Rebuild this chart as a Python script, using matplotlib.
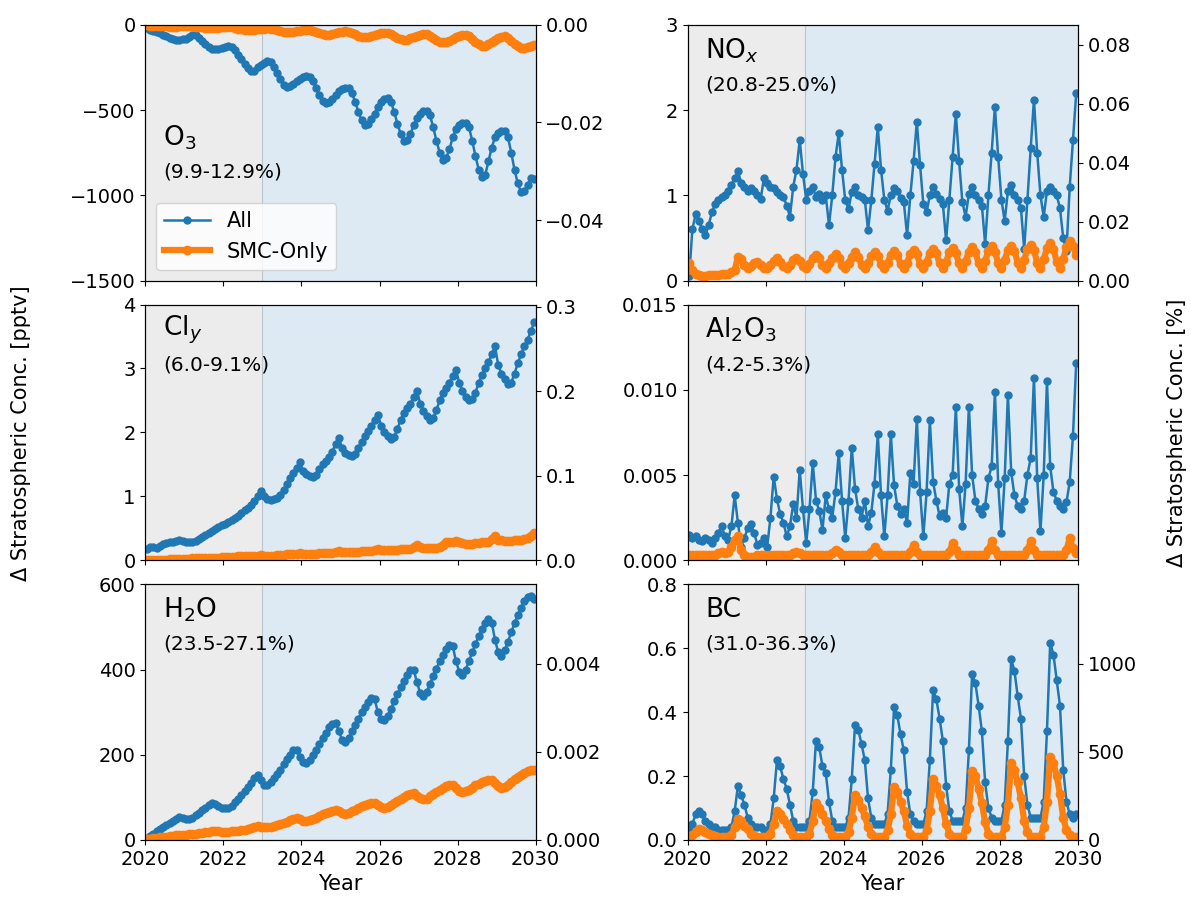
import numpy as np
import matplotlib.pyplot as plt

# monthly values, Jan 2020 - Dec 2029 (one row per year)
o3_all = [-20, -28, -35, -40, -48, -58, -68, -78, -85, -88, -86, -84,
          -80, -70, -60, -62, -75, -95, -115, -130, -140, -142, -140, -135,
          -128, -125, -130, -150, -175, -200, -230, -255, -270, -268, -250, -235,
          -222, -214, -220, -245, -280, -320, -350, -365, -360, -345, -330, -315,
          -305, -300, -305, -330, -370, -410, -445, -460, -455, -435, -410, -390,
          -378, -370, -372, -400, -450, -510, -560, -585, -580, -555, -520, -480,
          -450, -432, -428, -450, -510, -580, -640, -680, -675, -640, -590, -545,
          -520, -508, -506, -530, -600, -680, -750, -790, -780, -730, -660, -610,
          -590, -578, -574, -600, -680, -770, -850, -895, -880, -800, -720, -660,
          -635, -625, -623, -660, -750, -850, -930, -980, -975, -940, -900, -905]
o3_smc = [-3, -4, -5, -6, -7, -8, -9, -10, -10, -10, -9, -8,
          -8, -8, -9, -11, -13, -15, -17, -18, -18, -17, -16, -15,
          -14, -14, -15, -18, -22, -26, -29, -31, -31, -29, -26, -24,
          -22, -21, -22, -26, -32, -38, -42, -44, -44, -41, -37, -34,
          -31, -30, -31, -36, -43, -50, -55, -58, -57, -53, -48, -44,
          -40, -38, -39, -45, -54, -63, -70, -73, -72, -66, -59, -53,
          -49, -47, -48, -55, -65, -76, -84, -88, -86, -79, -70, -63,
          -58, -55, -56, -64, -76, -89, -98, -103, -101, -92, -81, -73,
          -66, -60, -60, -68, -82, -98, -112, -122, -124, -115, -100, -86,
          -75, -70, -68, -76, -92, -110, -125, -135, -137, -130, -125, -118]

nox_all = [0.05, 0.60, 0.78, 0.70, 0.60, 0.53, 0.65, 0.80, 0.90, 0.95, 0.98, 1.00,
           1.05, 1.12, 1.20, 1.28, 1.15, 1.10, 1.05, 1.08, 1.05, 1.00, 0.96, 1.20,
           1.15, 1.10, 1.08, 1.04, 1.00, 0.98, 0.88, 0.75, 1.10, 1.30, 1.65, 1.25,
           0.95, 1.05, 1.10, 0.98, 1.02, 0.95, 1.00, 0.65, 1.00, 1.45, 1.73, 1.30,
           0.94, 0.84, 1.04, 1.10, 1.00, 0.98, 0.95, 0.59, 0.94, 1.37, 1.80, 1.30,
           0.95, 0.82, 1.00, 1.08, 1.05, 0.97, 0.92, 0.53, 1.00, 1.40, 1.86, 1.35,
           0.90, 0.80, 1.00, 1.10, 1.02, 0.96, 0.90, 0.47, 0.95, 1.45, 1.96, 1.40,
           0.92, 0.75, 1.02, 1.10, 1.00, 0.95, 0.88, 0.43, 1.00, 1.50, 2.04, 1.45,
           0.95, 0.70, 1.05, 1.12, 1.00, 0.95, 0.85, 0.37, 0.95, 1.55, 2.12, 1.50,
           1.00, 0.75, 1.05, 1.10, 1.05, 1.00, 0.85, 0.50, 0.35, 1.10, 1.65, 2.20]
nox_smc = [0.20, 0.12, 0.08, 0.06, 0.05, 0.05, 0.06, 0.07, 0.06, 0.07, 0.08, 0.08,
           0.08, 0.10, 0.12, 0.28, 0.25, 0.18, 0.15, 0.17, 0.20, 0.22, 0.18, 0.15,
           0.15, 0.18, 0.23, 0.26, 0.22, 0.17, 0.15, 0.18, 0.24, 0.27, 0.23, 0.17,
           0.15, 0.19, 0.26, 0.30, 0.26, 0.18, 0.15, 0.20, 0.27, 0.31, 0.27, 0.18,
           0.15, 0.20, 0.28, 0.33, 0.28, 0.18, 0.15, 0.20, 0.29, 0.34, 0.29, 0.19,
           0.15, 0.21, 0.30, 0.35, 0.30, 0.19, 0.15, 0.21, 0.31, 0.36, 0.31, 0.19,
           0.15, 0.22, 0.32, 0.37, 0.32, 0.20, 0.15, 0.22, 0.33, 0.38, 0.32, 0.20,
           0.15, 0.23, 0.34, 0.39, 0.33, 0.20, 0.15, 0.23, 0.35, 0.40, 0.34, 0.21,
           0.15, 0.24, 0.36, 0.41, 0.35, 0.21, 0.15, 0.24, 0.37, 0.42, 0.36, 0.21,
           0.15, 0.25, 0.38, 0.44, 0.37, 0.22, 0.15, 0.25, 0.39, 0.46, 0.40, 0.30]

cly_all = [0.18, 0.20, 0.20, 0.19, 0.22, 0.25, 0.27, 0.28, 0.29, 0.30, 0.31, 0.30,
           0.29, 0.28, 0.29, 0.30, 0.33, 0.36, 0.40, 0.43, 0.46, 0.49, 0.52, 0.55,
           0.57, 0.60, 0.63, 0.66, 0.70, 0.74, 0.78, 0.82, 0.86, 0.92, 1.00, 1.09,
           1.00, 0.96, 0.95, 0.96, 0.98, 1.02, 1.10, 1.20, 1.28, 1.36, 1.45, 1.53,
           1.40, 1.35, 1.32, 1.30, 1.33, 1.42, 1.50, 1.56, 1.62, 1.70, 1.82, 1.92,
           1.75, 1.68, 1.64, 1.63, 1.66, 1.75, 1.85, 1.95, 2.02, 2.10, 2.20, 2.28,
           2.10, 2.00, 1.94, 1.90, 1.93, 2.05, 2.20, 2.30, 2.38, 2.45, 2.55, 2.65,
           2.45, 2.33, 2.25, 2.20, 2.22, 2.35, 2.50, 2.62, 2.70, 2.78, 2.88, 2.98,
           2.78, 2.65, 2.56, 2.50, 2.52, 2.62, 2.78, 2.90, 3.00, 3.10, 3.22, 3.35,
           3.05, 2.92, 2.83, 2.76, 2.78, 2.92, 3.08, 3.22, 3.35, 3.45, 3.58, 3.72]
cly_smc = [0.00, 0.00, 0.01, 0.01, 0.01, 0.01, 0.01, 0.02, 0.02, 0.02, 0.02, 0.02,
           0.02, 0.02, 0.03, 0.03, 0.03, 0.03, 0.03, 0.04, 0.04, 0.04, 0.04, 0.05,
           0.05, 0.05, 0.05, 0.05, 0.06, 0.06, 0.06, 0.06, 0.06, 0.07, 0.07, 0.08,
           0.07, 0.07, 0.07, 0.07, 0.08, 0.08, 0.08, 0.09, 0.09, 0.09, 0.10, 0.11,
           0.10, 0.10, 0.10, 0.10, 0.10, 0.11, 0.11, 0.11, 0.12, 0.12, 0.13, 0.15,
           0.13, 0.13, 0.13, 0.13, 0.13, 0.13, 0.14, 0.14, 0.14, 0.15, 0.16, 0.18,
           0.16, 0.16, 0.16, 0.16, 0.16, 0.16, 0.17, 0.17, 0.17, 0.18, 0.20, 0.24,
           0.20, 0.19, 0.19, 0.19, 0.19, 0.19, 0.20, 0.24, 0.28, 0.28, 0.29, 0.30,
           0.28, 0.27, 0.26, 0.26, 0.26, 0.27, 0.27, 0.28, 0.28, 0.29, 0.33, 0.38,
           0.32, 0.31, 0.30, 0.30, 0.30, 0.31, 0.31, 0.32, 0.33, 0.35, 0.38, 0.42]

al2o3_all = [0.0015, 0.0013, 0.0014, 0.0012, 0.0011, 0.0013, 0.0012, 0.0010, 0.0013, 0.0016, 0.0020, 0.0014,
             0.0012, 0.0020, 0.0038, 0.0022, 0.0008, 0.0013, 0.0019, 0.0021, 0.0016, 0.0009, 0.0010, 0.0013,
             0.0008, 0.0025, 0.0049, 0.0036, 0.0027, 0.0022, 0.0014, 0.0020, 0.0033, 0.0025, 0.0053, 0.0030,
             0.0010, 0.0030, 0.0057, 0.0035, 0.0029, 0.0018, 0.0038, 0.0030, 0.0025, 0.0040, 0.0063, 0.0035,
             0.0013, 0.0035, 0.0066, 0.0042, 0.0030, 0.0025, 0.0035, 0.0020, 0.0028, 0.0045, 0.0074, 0.0038,
             0.0014, 0.0038, 0.0074, 0.0044, 0.0032, 0.0027, 0.0030, 0.0022, 0.0051, 0.0045, 0.0083, 0.0040,
             0.0014, 0.0040, 0.0082, 0.0046, 0.0035, 0.0026, 0.0028, 0.0025, 0.0045, 0.0050, 0.0090, 0.0042,
             0.0020, 0.0045, 0.0090, 0.0050, 0.0035, 0.0030, 0.0027, 0.0032, 0.0048, 0.0055, 0.0099, 0.0045,
             0.0016, 0.0048, 0.0097, 0.0052, 0.0038, 0.0032, 0.0030, 0.0035, 0.0050, 0.0060, 0.0107, 0.0048,
             0.0017, 0.0050, 0.0105, 0.0055, 0.0040, 0.0035, 0.0032, 0.0030, 0.0034, 0.0046, 0.0073, 0.0116]
al2o3_smc = [0.0003, 0.0003, 0.0003, 0.0003, 0.0003, 0.0003, 0.0003, 0.0003, 0.0003, 0.0004, 0.0005, 0.0004,
             0.0005, 0.0008, 0.0012, 0.0014, 0.0006, 0.0003, 0.0002, 0.0002, 0.0002, 0.0003, 0.0003, 0.0003,
             0.0002, 0.0003, 0.0003, 0.0003, 0.0003, 0.0003, 0.0003, 0.0003, 0.0004, 0.0005, 0.0004, 0.0003,
             0.0003, 0.0003, 0.0003, 0.0003, 0.0003, 0.0003, 0.0003, 0.0003, 0.0004, 0.0006, 0.0005, 0.0003,
             0.0003, 0.0003, 0.0003, 0.0003, 0.0003, 0.0003, 0.0003, 0.0003, 0.0005, 0.0008, 0.0005, 0.0003,
             0.0003, 0.0003, 0.0003, 0.0003, 0.0003, 0.0003, 0.0003, 0.0003, 0.0005, 0.0009, 0.0005, 0.0003,
             0.0003, 0.0003, 0.0003, 0.0003, 0.0003, 0.0003, 0.0003, 0.0003, 0.0005, 0.0010, 0.0006, 0.0003,
             0.0003, 0.0003, 0.0003, 0.0003, 0.0003, 0.0003, 0.0003, 0.0003, 0.0006, 0.0011, 0.0006, 0.0003,
             0.0003, 0.0003, 0.0003, 0.0003, 0.0003, 0.0003, 0.0003, 0.0003, 0.0006, 0.0011, 0.0006, 0.0003,
             0.0003, 0.0003, 0.0003, 0.0003, 0.0003, 0.0003, 0.0003, 0.0003, 0.0006, 0.0013, 0.0007, 0.0004]

h2o_all = [5, 10, 15, 20, 25, 30, 35, 40, 45, 50, 55, 52,
           50, 50, 52, 58, 64, 70, 76, 82, 86, 84, 80, 76,
           75, 76, 80, 88, 96, 105, 114, 124, 134, 145, 153, 140,
           129, 128, 135, 145, 155, 165, 178, 190, 200, 210, 212, 195,
           182, 180, 188, 200, 212, 226, 240, 252, 264, 272, 275, 255,
           235, 231, 240, 255, 270, 285, 300, 312, 324, 333, 330, 300,
           285, 282, 292, 308, 325, 342, 358, 372, 386, 398, 400, 370,
           345, 337, 348, 365, 385, 402, 420, 435, 448, 458, 455, 420,
           395, 388, 400, 420, 440, 460, 478, 494, 508, 518, 510, 470,
           440, 431, 445, 465, 488, 508, 528, 545, 560, 570, 573, 565]
h2o_smc = [2, 3, 4, 5, 6, 7, 8, 9, 10, 11, 12, 12,
           12, 13, 14, 15, 16, 17, 18, 19, 20, 20, 20, 19,
           19, 19, 20, 21, 22, 23, 24, 26, 28, 30, 32, 31,
           30, 30, 31, 33, 35, 37, 40, 43, 46, 49, 51, 48,
           45, 44, 46, 49, 52, 56, 60, 63, 66, 69, 71, 67,
           63, 62, 64, 67, 71, 75, 79, 82, 85, 87, 86, 82,
           78, 76, 78, 82, 87, 92, 97, 101, 105, 108, 110, 104,
           98, 95, 97, 102, 107, 113, 118, 122, 126, 129, 129, 122,
           115, 112, 114, 118, 123, 128, 132, 136, 139, 141, 140, 133,
           126, 123, 125, 130, 136, 142, 148, 153, 158, 162, 165, 163]

bc_all = [0.03, 0.05, 0.08, 0.09, 0.08, 0.06, 0.05, 0.04, 0.04, 0.03, 0.03, 0.03,
          0.03, 0.04, 0.09, 0.17, 0.14, 0.11, 0.07, 0.05, 0.04, 0.04, 0.04, 0.03,
          0.03, 0.05, 0.13, 0.25, 0.23, 0.19, 0.16, 0.11, 0.06, 0.04, 0.04, 0.04,
          0.04, 0.06, 0.15, 0.31, 0.29, 0.23, 0.21, 0.12, 0.06, 0.04, 0.04, 0.04,
          0.04, 0.07, 0.19, 0.36, 0.345, 0.30, 0.25, 0.13, 0.07, 0.05, 0.05, 0.05,
          0.05, 0.08, 0.22, 0.415, 0.39, 0.33, 0.28, 0.15, 0.08, 0.06, 0.05, 0.05,
          0.05, 0.09, 0.25, 0.47, 0.44, 0.38, 0.31, 0.17, 0.09, 0.06, 0.06, 0.06,
          0.06, 0.10, 0.28, 0.52, 0.49, 0.42, 0.34, 0.18, 0.10, 0.07, 0.06, 0.06,
          0.06, 0.11, 0.31, 0.565, 0.53, 0.45, 0.38, 0.20, 0.11, 0.07, 0.07, 0.07,
          0.07, 0.12, 0.34, 0.617, 0.58, 0.50, 0.42, 0.22, 0.12, 0.08, 0.07, 0.08]
bc_smc = [0.01, 0.015, 0.025, 0.035, 0.03, 0.025, 0.02, 0.015, 0.012, 0.01, 0.01, 0.01,
          0.01, 0.015, 0.04, 0.065, 0.06, 0.045, 0.035, 0.02, 0.012, 0.01, 0.01, 0.01,
          0.01, 0.02, 0.05, 0.09, 0.08, 0.065, 0.05, 0.03, 0.015, 0.01, 0.01, 0.01,
          0.01, 0.02, 0.06, 0.115, 0.10, 0.08, 0.06, 0.035, 0.015, 0.01, 0.01, 0.01,
          0.01, 0.025, 0.07, 0.14, 0.125, 0.10, 0.075, 0.04, 0.02, 0.01, 0.01, 0.01,
          0.01, 0.03, 0.08, 0.165, 0.15, 0.12, 0.09, 0.045, 0.02, 0.01, 0.01, 0.01,
          0.01, 0.03, 0.09, 0.19, 0.17, 0.14, 0.10, 0.05, 0.02, 0.01, 0.01, 0.01,
          0.01, 0.035, 0.10, 0.215, 0.20, 0.16, 0.115, 0.055, 0.02, 0.01, 0.01, 0.01,
          0.01, 0.04, 0.11, 0.24, 0.22, 0.18, 0.13, 0.06, 0.025, 0.01, 0.01, 0.01,
          0.01, 0.04, 0.12, 0.26, 0.24, 0.20, 0.145, 0.07, 0.03, 0.015, 0.01, 0.01]

names = ["O$_3$", "NO$_x$", "Cl$_y$", "Al$_2$O$_3$", "H$_2$O", "BC"]
ranges = ["(9.9-12.9%)", "(20.8-25.0%)", "(6.0-9.1%)", "(4.2-5.3%)", "(23.5-27.1%)", "(31.0-36.3%)"]
all_series = [o3_all, nox_all, cly_all, al2o3_all, h2o_all, bc_all]
smc_series = [o3_smc, nox_smc, cly_smc, al2o3_smc, h2o_smc, bc_smc]
left_lims = [(-1500, 0), (0, 3), (0, 4), (0, 0.015), (0, 600), (0, 0.8)]
left_ticks = [[-1500, -1000, -500, 0], [0, 1, 2, 3], [0, 1, 2, 3, 4],
              [0, 0.005, 0.010, 0.015], [0, 200, 400, 600], [0, 0.2, 0.4, 0.6, 0.8]]
right_lims = [(-0.0524, 0), (0, 0.0868), (0, 0.3024), None, (0, 0.0058), (0, 1449)]
right_ticks = [[-0.04, -0.02, 0.0], [0, 0.02, 0.04, 0.06, 0.08], [0, 0.1, 0.2, 0.3],
               [], [0, 0.002, 0.004], [0, 500, 1000]]
right_fmt = ["%.2f", "%.2f", "%.1f", None, "%.3f", "%d"]
left_fmt = ["%d", "%d", "%d", "%.3f", "%d", "%.1f"]
label_y = [0.56, 0.9, 0.9, 0.9, 0.9, 0.9]


def minus_fmt(fmt):
    def f(v, pos):
        s = fmt % v
        if s.startswith("-") and float(s) == 0:
            s = s[1:]
        return s.replace("-", "\u2212")
    return plt.FuncFormatter(f)


t = 2020 + (np.arange(120) + 0.5) / 12

fig, axes = plt.subplots(3, 2, figsize=(11.91, 9.21), dpi=100)
fig.subplots_adjust(left=0.122, right=0.905, top=0.973, bottom=0.088,
                    wspace=0.389, hspace=0.094)

for k, ax in enumerate(axes.flat):
    ax.axvspan(2020, 2023, color="gray", alpha=0.15, lw=0)
    ax.axvspan(2023, 2030, color="C0", alpha=0.15, lw=0)
    ax.axvline(2023, color="gray", lw=0.8, alpha=0.35)
    ax.plot(t, all_series[k], "-o", color="C0", lw=1.8, ms=5, label="All")
    ax.plot(t, smc_series[k], "-o", color="C1", lw=4.5, ms=6, label="SMC-Only")
    ax.set_xlim(2020, 2030)
    ax.set_ylim(*left_lims[k])
    ax.set_yticks(left_ticks[k])
    ax.yaxis.set_major_formatter(minus_fmt(left_fmt[k]))
    ax.set_xticks(range(2020, 2031, 2))
    ax.tick_params(labelsize=14)
    if k < 4:
        ax.set_xticklabels([])
    else:
        ax.set_xlabel("Year", fontsize=15)
    ax.text(0.045, label_y[k], names[k], transform=ax.transAxes, fontsize=19, va="center")
    ax.text(0.045, label_y[k] - 0.135, ranges[k], transform=ax.transAxes, fontsize=14.5, va="center")

    tw = ax.twinx()
    if right_lims[k] is None:
        tw.set_yticks([])
    else:
        tw.set_ylim(*right_lims[k])
        tw.set_yticks(right_ticks[k])
        tw.yaxis.set_major_formatter(minus_fmt(right_fmt[k]))
    tw.tick_params(labelsize=14)

axes[0, 0].legend(loc="lower left", fontsize=15, framealpha=0.8, handlelength=2.2)

fig.text(0.018, 0.53, "\u0394 Stratospheric Conc. [pptv]", rotation=90, va="center", ha="center", fontsize=15)
fig.text(0.988, 0.53, "\u0394 Stratospheric Conc. [%]", rotation=90, va="center", ha="center", fontsize=15)

fig.savefig("out.png", dpi=100)
